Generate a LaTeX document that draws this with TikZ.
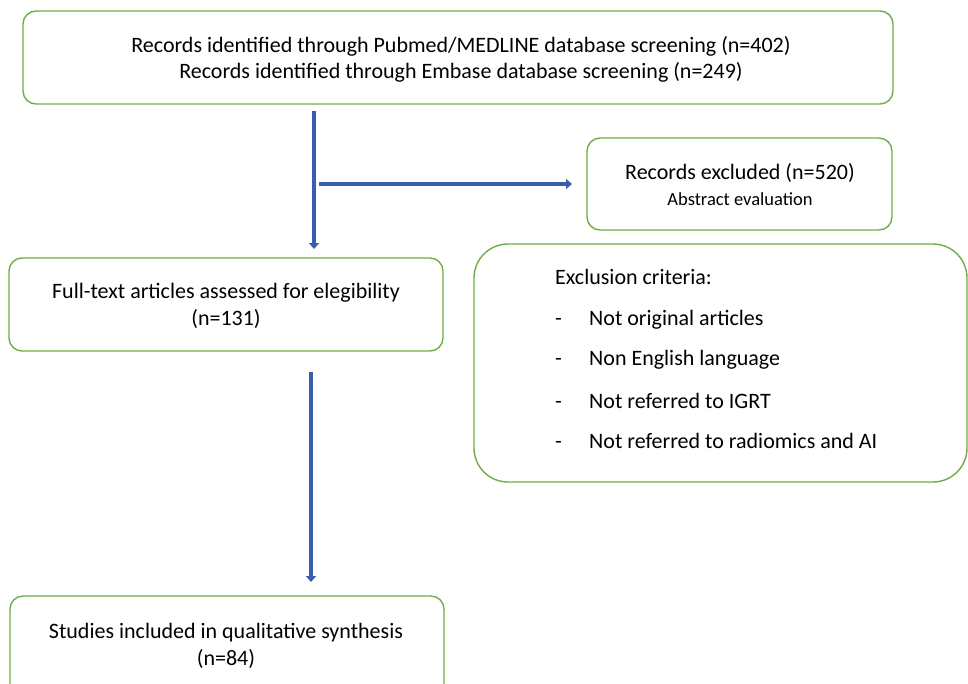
\documentclass[tikz,border=0pt]{standalone}
\usepackage{fontspec}
\setmainfont{Carlito}
\usetikzlibrary{arrows.meta}
\definecolor{boxgreen}{HTML}{70AD47}
\definecolor{arrblue}{HTML}{3A5FAA}
\tikzset{
  rbox/.style={draw=boxgreen, line width=1.4pt, rounded corners=13pt},
  bigbox/.style={draw=boxgreen, line width=1.4pt, rounded corners=34pt},
  txt/.style={font=\fontsize{22}{27}\selectfont, inner sep=0pt, align=center},
  arr/.style={draw=arrblue, line width=4pt, -{Triangle[width=10pt,length=6pt]}}
}
\begin{document}
\begin{tikzpicture}[x=1pt,y=-1pt]
\useasboundingbox (0,0) rectangle (968,683);
% boxes
\draw[rbox] (23,11) rectangle (893,104);
\node[txt, font=\fontsize{22}{26}\selectfont] (top) at (461,59) {Records identified through Pubmed/MEDLINE database screening (n=402)\\Records identified through Embase database screening (n=249)};

\draw[rbox] (587,138) rectangle (892,230);
\node[txt] (exc) at (740,173) {Records excluded (n=520)};
\node[txt, font=\fontsize{18.5}{22}\selectfont] (abs) at (740,199) {Abstract evaluation};

\draw[rbox] (9,258) rectangle (443,351);
\node[txt] (full) at (226,306) {Full-text articles assessed for elegibility\\(n=131)};

\draw[bigbox] (474,244) rectangle (967,482);
\node[txt, anchor=west] (crit) at (555,277) {Exclusion criteria:};
\foreach \y/\t [count=\i] in {320/Not original articles, 360/Non English language, 401/Not referred to IGRT, 441/Not referred to radiomics and AI}{
  \node[txt, anchor=west] (c\i) at (555,\y) {\makebox[34pt][l]{-}\t};
}

\draw[rbox] (10,700) |- (444,596) -- (444,700);
\node[txt] (stud) at (226,646) {Studies included in qualitative synthesis\\(n=84)};

% arrows
\coordinate (a1s) at (314,111);
\coordinate (a1e) at (314,249);
\draw[arr] (a1s) -- (a1e);
\coordinate (a2s) at (319,184);
\coordinate (a2e) at (572,184);
\draw[arr] (a2s) -- (a2e);
\coordinate (a3s) at (311,372);
\coordinate (a3e) at (311,582);
\draw[arr] (a3s) -- (a3e);
\end{tikzpicture}
\end{document}
